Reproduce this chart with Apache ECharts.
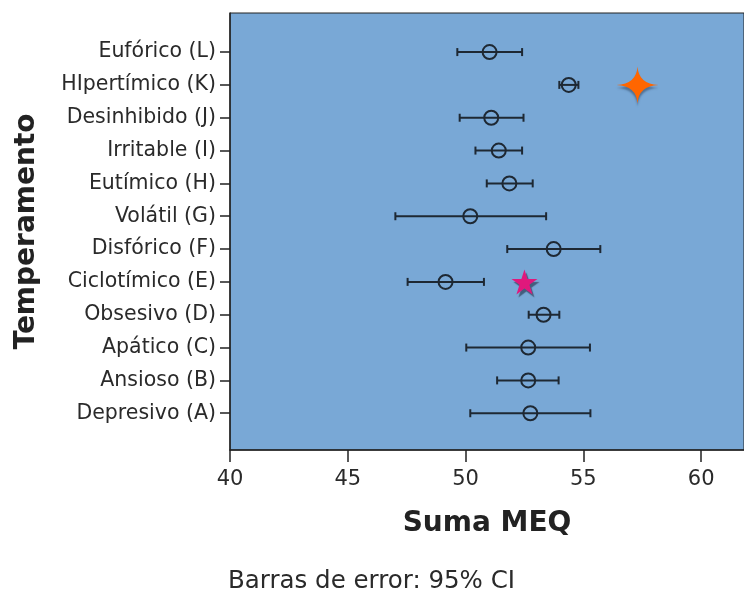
<!DOCTYPE html>
<html>
<head>
<meta charset="utf-8">
<title>Suma MEQ por temperamento</title>
<script src="https://cdn.jsdelivr.net/npm/echarts@6/dist/echarts.min.js"></script>
<style>
  html, body { margin: 0; padding: 0; background: #fff; }
  #chart { width: 744px; height: 594px; }
</style>
</head>
<body>
<div id="chart"></div>
<script>
// categorías de temperamento, de abajo hacia arriba
const categories = ['Depresivo (A)', 'Ansioso (B)', 'Apático (C)', 'Obsesivo (D)', 'Ciclotímico (E)', 'Disfórico (F)',
  'Volátil (G)', 'Eutímico (H)', 'Irritable (I)', 'Desinhibido (J)', 'HIpertímico (K)', 'Eufórico (L)'];
// medias de Suma MEQ
const means = [52.75, 52.66, 52.66, 53.31, 49.15, 53.74, 50.20, 51.86, 51.41, 51.09, 54.38, 51.02];
// límites del intervalo de confianza 95%
const lower = [50.20, 51.34, 50.03, 52.68, 47.54, 51.77, 47.02, 50.90, 50.42, 49.75, 53.98, 49.65];
const upper = [55.30, 53.95, 55.28, 53.98, 50.78, 55.72, 53.42, 52.85, 52.40, 52.46, 54.79, 52.40];
// marcadores destacados: [valor, índice de categoría]
const orangeStar = [[57.3, 10]];
const pinkStar = [[52.5, 4]];
// marcas del eje x
const xTicks = [40, 45, 50, 55, 60];

const FONT = 'DejaVu Sans';
const DARK = '#1e2833';

const chart = echarts.init(document.getElementById('chart'));

const rowIdx = categories.map((c, i) => i);

const option = {
  animation: false,
  textStyle: { fontFamily: FONT },
  grid: {
    left: 230, right: -1, top: 13, bottom: 144,
    show: true,
    backgroundColor: '#79a8d6',
    borderColor: '#222', borderWidth: 1
  },
  xAxis: {
    type: 'value',
    min: 40, max: 61.82,
    name: 'Suma MEQ',
    nameLocation: 'middle',
    nameGap: 60,
    nameTextStyle: { fontSize: 28, fontWeight: 'bold', color: '#222', fontFamily: FONT },
    splitLine: { show: false },
    axisLine: { show: true, onZero: false, lineStyle: { color: '#222', width: 1.5 } },
    axisTick: { show: true, length: 12, customValues: xTicks, lineStyle: { color: '#222', width: 1.5 } },
    axisLabel: { customValues: xTicks, fontSize: 21, color: '#2a2a2a', margin: 19 }
  },
  yAxis: {
    type: 'value',
    min: -1.12, max: 12.19,
    name: 'Temperamento',
    nameLocation: 'middle',
    nameRotate: 90,
    nameGap: 189,
    nameTextStyle: { fontSize: 28, fontWeight: 'bold', color: '#222', fontFamily: FONT },
    splitLine: { show: false },
    axisLine: { show: true, onZero: false, lineStyle: { color: '#222', width: 1.5 } },
    axisTick: { show: true, length: 10, customValues: rowIdx, lineStyle: { color: '#222', width: 1.5 } },
    axisLabel: {
      customValues: rowIdx,
      fontSize: 20.5, color: '#2a2a2a', margin: 14,
      formatter: v => categories[Math.round(v)]
    }
  },
  graphic: [{
    type: 'text',
    left: 228, top: 569,
    style: { text: 'Barras de error: 95% CI', fontSize: 24.5, fill: '#2a2a2a', fontFamily: FONT }
  }],
  series: [
    { // barras de error 95% CI
      type: 'custom',
      data: categories.map((c, i) => [i, lower[i], upper[i]]),
      renderItem: (params, api) => {
        const y = api.value(0);
        const a = api.coord([api.value(1), y]);
        const b = api.coord([api.value(2), y]);
        const cap = 4;
        const st = { stroke: DARK, lineWidth: 2 };
        return {
          type: 'group',
          children: [
            { type: 'line', shape: { x1: a[0], y1: a[1], x2: b[0], y2: b[1] }, style: st },
            { type: 'line', shape: { x1: a[0], y1: a[1] - cap, x2: a[0], y2: a[1] + cap }, style: st },
            { type: 'line', shape: { x1: b[0], y1: b[1] - cap, x2: b[0], y2: b[1] + cap }, style: st }
          ]
        };
      },
      z: 2
    },
    { // medias
      type: 'scatter',
      data: means.map((m, i) => [m, i]),
      symbol: 'circle',
      symbolSize: 14,
      itemStyle: { color: 'rgba(0,0,0,0)', borderColor: DARK, borderWidth: 2, opacity: 1 },
      z: 3
    },
    { // estrella naranja
      type: 'scatter',
      data: orangeStar,
      symbol: 'path://M0,-1 Q0.05,-0.05 1,0 Q0.05,0.05 0,1 Q-0.05,0.05 -1,0 Q-0.05,-0.05 0,-1 Z',
      symbolSize: [42, 37],
      itemStyle: {
        color: '#ff6600', opacity: 1,
        shadowColor: 'rgba(50,70,95,0.55)', shadowBlur: 2, shadowOffsetX: 0, shadowOffsetY: 3
      },
      z: 4
    },
    { // estrella rosa
      type: 'scatter',
      data: pinkStar,
      symbol: 'path://M0,-1 L0.2245,-0.309 L0.951,-0.309 L0.363,0.118 L0.588,0.809 L0,0.382 L-0.588,0.809 L-0.363,0.118 L-0.951,-0.309 L-0.2245,-0.309 Z',
      symbolSize: [26, 25],
      itemStyle: {
        color: '#e0187c', opacity: 1,
        shadowColor: 'rgba(50,70,95,0.75)', shadowBlur: 1, shadowOffsetX: 2, shadowOffsetY: 3
      },
      z: 4
    }
  ]
};

chart.setOption(option);
</script>
</body>
</html>
